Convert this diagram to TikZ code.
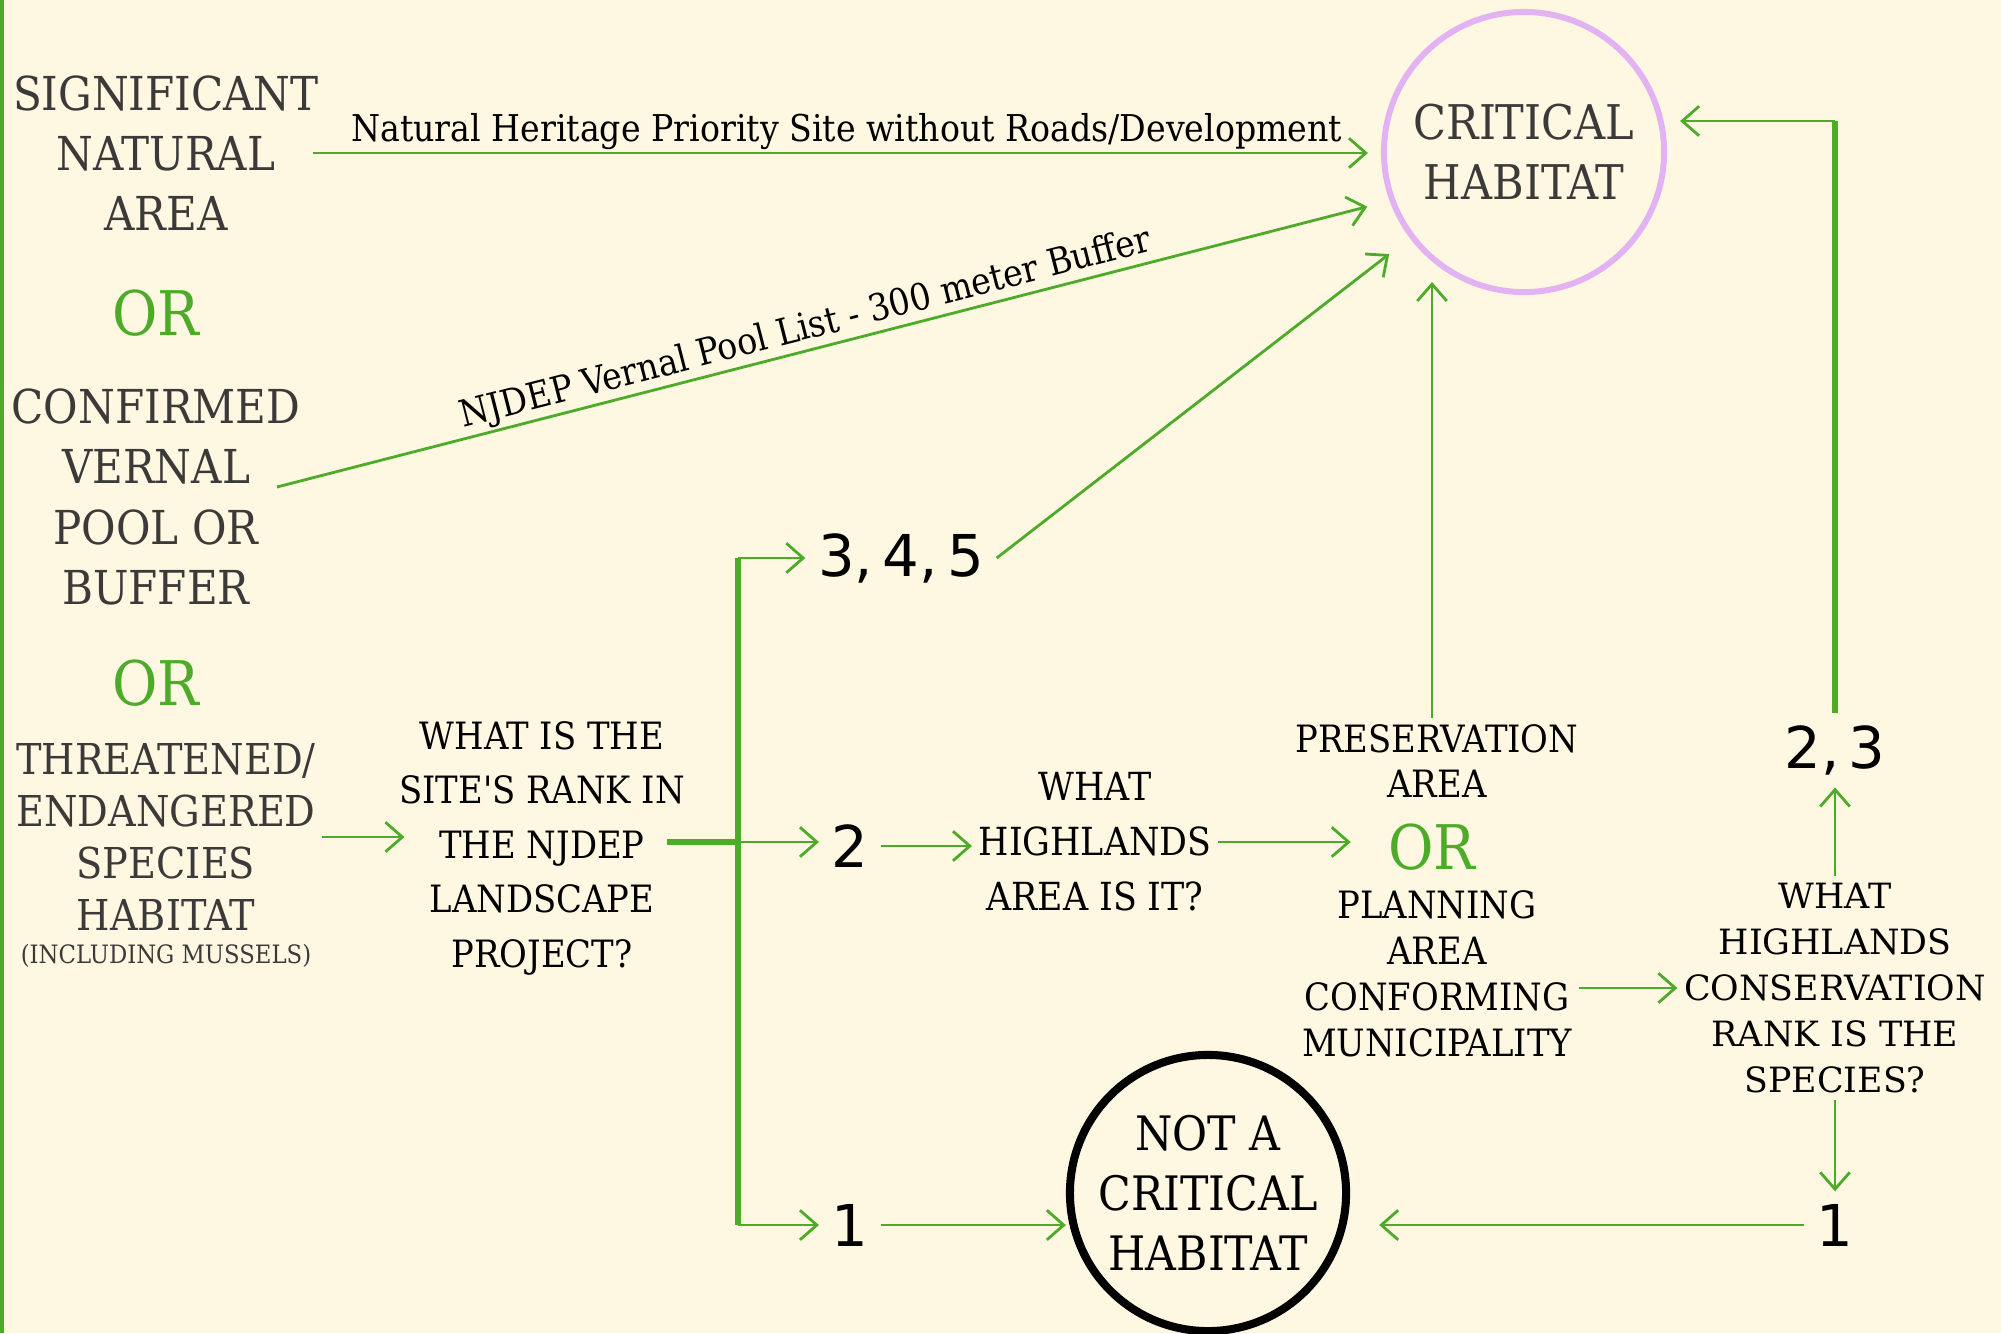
\documentclass[tikz,border=0pt]{standalone}
\usepackage{fontspec}
\setmainfont{DejaVu Serif Condensed}
\newfontfamily\widefont{DejaVu Serif}
\newfontfamily\numfont{DejaVu Sans}
\usepackage{xcolor}
\usetikzlibrary{shapes.geometric, positioning, arrows.meta, calc}

\definecolor{paper}{RGB}{254,248,226}
\definecolor{leaf}{RGB}{78,171,42}
\definecolor{ink}{RGB}{60,57,57}
\definecolor{lilac}{RGB}{226,178,242}

\begin{document}
\begin{tikzpicture}[
    x=0.01cm, y=-0.01cm,
    choice/.style={align=center, inner sep=0.6mm, text=ink, font=\fontsize{13.3}{17.1}\selectfont},
    orword/.style={inner sep=0pt, text=leaf, font=\fontsize{17.5}{20}\selectfont},
    question/.style={align=center, inner sep=0.6mm, font=\fontsize{10.7}{15.5}\selectfont},
    rank/.style={inner sep=1.2mm, font=\numfont\fontsize{16.4}{20}\selectfont},
    outcome/.style={circle, inner sep=0pt, align=center},
    flow/.style={leaf, line width=0.8pt, -{Straight Barb[length=4.8pt, width=8.4pt]}},
    trunk/.style={leaf, line width=1.6pt},
    edgetext/.style={inner sep=0.5pt, font=\fontsize{10.5}{12}\selectfont, text=black}
]
    % page
    \useasboundingbox (0,0) rectangle (2001,1333);
    \fill[paper] (0,0) rectangle (2001,1333);
    \draw[leaf, line width=1.1pt] (2,0) -- (2,1333);

    % starting conditions
    \node[choice] (sna) at (166,153) {SIGNIFICANT\\NATURAL\\AREA};
    \node[orword] (orA) at (156,313) {OR};
    \node[choice] (cvp) at (156,497) {CONFIRMED\\VERNAL\\POOL OR\\BUFFER};
    \node[orword] (orB) at (156,683) {OR};
    \node[choice, font=\fontsize{12.1}{14.8}\selectfont] (tes) at (166,837) {THREATENED/\\ENDANGERED\\SPECIES\\HABITAT};
    \node[text=ink, font=\fontsize{7.2}{9}\selectfont] (incl) at (166,956) {(INCLUDING MUSSELS)};

    % outcomes
    \node[outcome, draw=lilac, line width=1.7pt, minimum size=2.8cm, text=ink,
          font=\fontsize{13.6}{17.1}\selectfont] (crit) at (1524,152) {CRITICAL\\HABITAT};
    \node[outcome, draw=black, line width=2.3pt, minimum size=2.76cm,
          font=\fontsize{13.5}{17.1}\selectfont] (notcrit) at (1208,1193) {NOT A\\CRITICAL\\HABITAT};

    % questions and answers
    \node[question, font=\fontsize{10.7}{15.5}\selectfont] (rankq) at (542,848) {WHAT IS THE\\SITE\textquotesingle S RANK IN\\THE NJDEP\\LANDSCAPE\\PROJECT?};
    \node[rank] (n345) at (901,558) {3,\,4,\,5};
    \node[rank] (n2) at (850,846) {2};
    \node[rank] (n1) at (850,1225) {1};
    \node[question, font=\fontsize{11}{15.6}\selectfont] (areaq) at (1095,842) {WHAT\\HIGHLANDS\\AREA IS IT?};
    \node[question, font=\fontsize{10.7}{12.8}\selectfont] (pres) at (1437,761) {PRESERVATION\\AREA};
    \node[orword] (orC) at (1432,847) {OR};
    \node[question, font=\fontsize{10.7}{13.1}\selectfont] (plan) at (1437,974) {PLANNING\\AREA\\CONFORMING\\MUNICIPALITY};
    \node[question, font=\widefont\fontsize{9.9}{13.1}\selectfont] (consq) at (1835,988) {WHAT\\HIGHLANDS\\CONSERVATION\\RANK IS THE\\SPECIES?};
    \node[rank] (n23) at (1835,750) {2,\,3};
    \node[rank] (n1r) at (1835,1225) {1};

    \coordinate (btop) at (738,558);
    \coordinate (bmid) at (738,842);
    \coordinate (bbot) at (738,1225);
    \coordinate (bend) at (1835,121);
    \coordinate (critfoot) at (1432,282);

    % direct routes
    \draw[flow, shorten >=1.3mm] ([xshift=-1.3mm]sna.east) -- node[edgetext, above] {Natural Heritage Priority Site without Roads/Development} (sna.east -| crit.west);
    \draw[flow, shorten >=2.3mm] ([xshift=-3mm, yshift=1mm]cvp.east) -- node[edgetext, above, sloped, pos=0.48] {NJDEP Vernal Pool List - 300 meter Buffer} (crit.200);

    % landscape rank
    \draw[flow, shorten >=-1.2mm] (tes.east) -- (tes.east -| rankq.west);
    \draw[trunk] ([xshift=-2.5mm]rankq.east |- bmid) -- (bmid);
    \draw[trunk] (btop) -- (bbot);
    \draw[flow] (btop) -- (n345.west);
    \draw[flow] (bmid) -- (bmid -| n2.west);
    \draw[flow] (bbot) -- (n1.west);
    \draw[flow, shorten >=2.6mm] (n345.east) -- (crit.217);
    \draw[flow] (n1.east) -- (n1.east -| notcrit.west);

    % highlands area
    \draw[flow] (n2.east) -- (n2.east -| areaq.west);
    \draw[flow, shorten >=3.7mm] (areaq.east) -- (areaq.east -| orC.west);
    \draw[flow] (pres.north -| critfoot) -- (critfoot);
    \draw[flow] (consq.west -| plan.east) -- (consq.west);

    % conservation rank
    \draw[flow] (consq.north) -- (n23.south);
    \draw[trunk] (n23.north) -- (bend);
    \draw[flow, shorten >=1.3mm] (bend) -- (bend -| crit.east);
    \draw[flow] (consq.south) -- (n1r.north);
    \draw[flow, shorten >=2.9mm] (n1r.west) -- (n1r.west -| notcrit.east);
\end{tikzpicture}
\end{document}
